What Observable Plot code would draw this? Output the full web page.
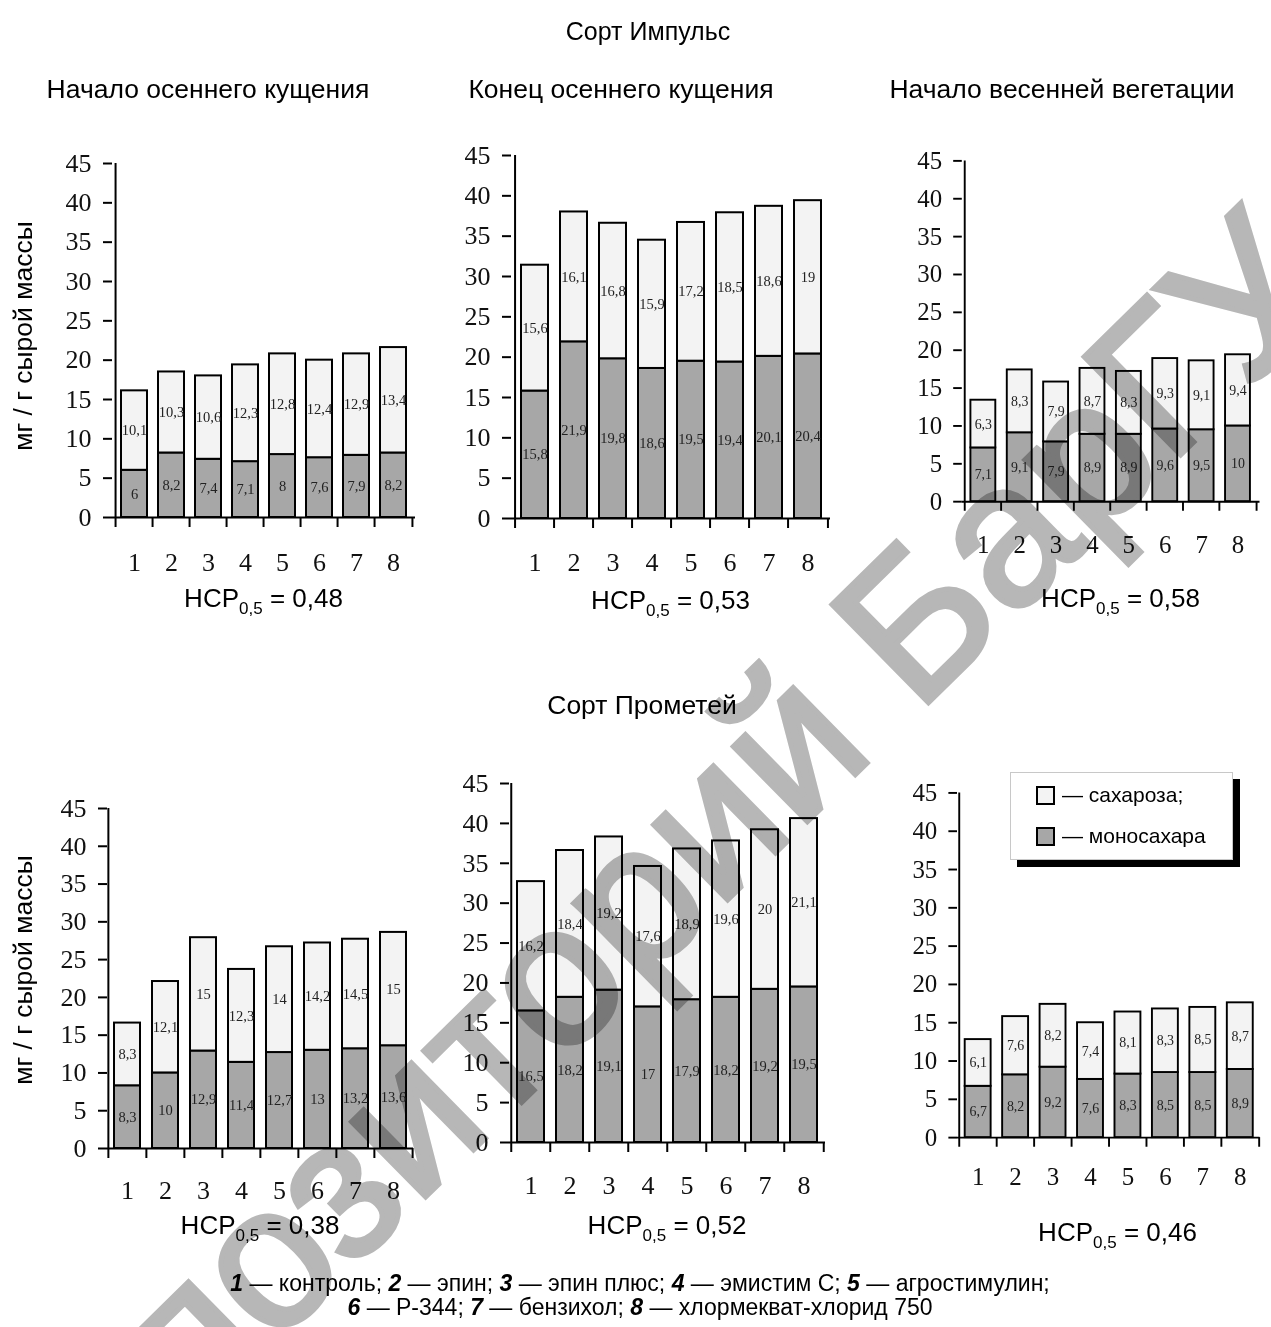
<!DOCTYPE html>
<html>
<head>
<meta charset="utf-8">
<script src="https://cdn.jsdelivr.net/npm/d3@7"></script>
<script src="https://cdn.jsdelivr.net/npm/@observablehq/plot@0.6"></script>
<style>
  html, body { margin: 0; padding: 0; background: #fff; }
  #page { position: relative; width: 1271px; height: 1327px; overflow: hidden; background: #fff;
          font-family: "Liberation Sans", Arial, sans-serif; color: #000; }
  .t { position: absolute; transform: translate(-50%, -50%); white-space: nowrap; font-size: 26.5px; }
  .ytitle { position: absolute; transform: translate(-50%, -50%) rotate(-90deg); white-space: nowrap; font-size: 26.5px; }
  .hcp { position: absolute; transform: translate(-50%, -50%); white-space: nowrap; font-size: 26px; }
  .hcp sub { font-size: 17px; vertical-align: baseline; position: relative; top: 7px; }
  .panel { position: absolute; }
  .foot { position: absolute; left: 0; width: 1280px; text-align: center; font-size: 23px; line-height: 24px; white-space: nowrap; }
  .legend { position: absolute; background: #fff; border: 1px solid #c8c8c8; box-shadow: 7px 7px 0 #000; }
  .legend .row { position: absolute; left: 25px; display: flex; align-items: center; font-size: 21px; }
  .legend .sw { width: 15px; height: 15px; border: 2px solid #000; margin-right: 7px; }
  #wm { position: absolute; left: 0; top: 0; pointer-events: none; mix-blend-mode: multiply; }
</style>
</head>
<body>
<div id="page"></div>
<script>
// ---- data ----
const cats = ["1", "2", "3", "4", "5", "6", "7", "8"];
const yTicks = [0, 5, 10, 15, 20, 25, 30, 35, 40, 45];
const seriesNames = ["моносахара", "сахароза"];

// Сорт Импульс
const imp1Mono = [6, 8.2, 7.4, 7.1, 8, 7.6, 7.9, 8.2];
const imp1Sucr = [10.1, 10.3, 10.6, 12.3, 12.8, 12.4, 12.9, 13.4];
const imp2Mono = [15.8, 21.9, 19.8, 18.6, 19.5, 19.4, 20.1, 20.4];
const imp2Sucr = [15.6, 16.1, 16.8, 15.9, 17.2, 18.5, 18.6, 19];
const imp3Mono = [7.1, 9.1, 7.9, 8.9, 8.9, 9.6, 9.5, 10];
const imp3Sucr = [6.3, 8.3, 7.9, 8.7, 8.3, 9.3, 9.1, 9.4];
// Сорт Прометей
const pro1Mono = [8.3, 10, 12.9, 11.4, 12.7, 13, 13.2, 13.6];
const pro1Sucr = [8.3, 12.1, 15, 12.3, 14, 14.2, 14.5, 15];
const pro2Mono = [16.5, 18.2, 19.1, 17, 17.9, 18.2, 19.2, 19.5];
const pro2Sucr = [16.2, 18.4, 19.2, 17.6, 18.9, 19.6, 20, 21.1];
const pro3Mono = [6.7, 8.2, 9.2, 7.6, 8.3, 8.5, 8.5, 8.9];
const pro3Sucr = [6.1, 7.6, 8.2, 7.4, 8.1, 8.3, 8.5, 8.7];

const hcpValues = ["0,48", "0,53", "0,58", "0,38", "0,52", "0,46"];
const stageTitles = ["Начало осеннего кущения", "Конец осеннего кущения", "Начало весенней вегетации"];
const varietyTitles = ["Сорт Импульс", "Сорт Прометей"];
const yTitle = "мг / г сырой массы";
const legendLabels = ["— сахароза;", "— моносахара"];
const footLine1 = [["1", " — контроль; "], ["2", " — эпин; "], ["3", " — эпин плюс; "], ["4", " — эмистим С; "], ["5", " — агростимулин;"]];
const footLine2 = [["6", " — Р-344; "], ["7", " — бензихол; "], ["8", " — хлормекват-хлорид 750"]];
const watermark = "Репозиторий БарГУ";

// ---- layout ----
const panels = [
  {mono: imp1Mono, sucr: imp1Sucr, ax: 112, right: 415, y45: 163, y0: 517, lab: 45, hcpY: 598},
  {mono: imp2Mono, sucr: imp2Sucr, ax: 511, right: 830, y45: 155, y0: 518, lab: 44, hcpY: 600},
  {mono: imp3Mono, sucr: imp3Sucr, ax: 965, right: 1276, y45: 161, y0: 517, lab: 45, hcpY: 598},
  {mono: pro1Mono, sucr: pro1Sucr, ax: 107, right: 413, y45: 808, y0: 1148, lab: 42, hcpY: 1225},
  {mono: pro2Mono, sucr: pro2Sucr, ax: 509, right: 825, y45: 783, y0: 1142, lab: 43, hcpY: 1225},
  {mono: pro3Mono, sucr: pro3Sucr, ax: 960, right: 1275, y45: 793, y0: 1152, lab: 41, hcpY: 1232}
];

const page = document.getElementById("page");
const fmt = v => String(v).replace(".", ",");

function addText(cls, html, x, y, extra) {
  const d = document.createElement("div");
  d.className = cls;
  d.innerHTML = html;
  d.style.left = x + "px";
  d.style.top = y + "px";
  if (extra) Object.assign(d.style, extra);
  page.appendChild(d);
  return d;
}

// titles
addText("t", varietyTitles[0], 648, 31, {fontSize: "25px"});
addText("t", stageTitles[0], 208, 89);
addText("t", stageTitles[1], 621, 89);
addText("t", stageTitles[2], 1062, 89);
addText("t", varietyTitles[1], 642, 705);
addText("ytitle", yTitle, 23, 336);
addText("ytitle", yTitle, 23, 970);

panels.forEach((p, k) => {
  const ML = 75, MR = 12, MT = 14, MB = 62;
  const plotW = p.right - p.ax;
  const step = plotW / cats.length;
  const plotH = p.y0 - p.y45;
  const W = ML + plotW + MR, H = MT + plotH + MB;
  const rows = [];
  cats.forEach((c, i) => rows.push({cat: c, series: seriesNames[0], value: p.mono[i]}));
  cats.forEach((c, i) => rows.push({cat: c, series: seriesNames[1], value: p.sucr[i]}));
  const chart = Plot.plot({
    width: W, height: H,
    marginLeft: ML, marginRight: MR, marginTop: MT, marginBottom: MB,
    x: {type: "band", domain: cats, paddingInner: 0.31, paddingOuter: 0.155, axis: null},
    y: {domain: [0, 45], axis: null},
    color: {domain: seriesNames, range: ["#a7a7a7", "#f3f3f3"]},
    style: {fontFamily: "'Liberation Serif', 'Times New Roman', serif", fontSize: "26px", color: "#000", background: "transparent", overflow: "visible"},
    marks: [
      Plot.barY(rows, {x: "cat", y: "value", fill: "series", stroke: "#000", strokeWidth: 2, order: seriesNames}),
      Plot.text(rows, Plot.stackY({x: "cat", y: "value", z: "series", order: seriesNames,
        text: d => fmt(d.value), fontSize: 14.5, fill: "#222"})),
      Plot.ruleY([0], {stroke: "#000", strokeWidth: 2}),
      Plot.ruleX([cats[0]], {y1: 0, y2: 45, dx: -step / 2, stroke: "#000", strokeWidth: 2}),
      Plot.axisY({ticks: yTicks, tickSize: 9, tickPadding: 12, fontSize: 26, strokeWidth: 2, label: null, fill: "#111"}),
      Plot.axisX({ticks: cats, tickSize: 10, tickFormat: () => "", dx: -step / 2, strokeWidth: 2, label: null}),
      Plot.axisX({ticks: [cats[cats.length - 1]], tickSize: 10, tickFormat: () => "", dx: step / 2, strokeWidth: 2, label: null}),
      Plot.axisX({ticks: cats, tickSize: 0, tickPadding: p.lab - 10, fontSize: 26, label: null, fill: "#111"})
    ]
  });
  const wrap = document.createElement("div");
  wrap.className = "panel";
  wrap.style.left = (p.ax - ML) + "px";
  wrap.style.top = (p.y45 - MT) + "px";
  wrap.appendChild(chart);
  page.appendChild(wrap);
  addText("hcp", "НСР<sub>0,5</sub> = " + hcpValues[k], (p.ax + p.right) / 2, p.hcpY);
});

// legend
const lg = document.createElement("div");
lg.className = "legend";
Object.assign(lg.style, {left: "1010px", top: "772px", width: "221px", height: "86px"});
[[seriesNames[1], legendLabels[0], "#f3f3f3", 23], [seriesNames[0], legendLabels[1], "#a7a7a7", 64]].forEach(([s, lab, col, y]) => {
  const r = document.createElement("div");
  r.className = "row";
  r.style.top = (y - 13) + "px";
  r.innerHTML = `<div class="sw" style="background:${col}"></div><span>${lab}</span>`;
  lg.appendChild(r);
});
page.appendChild(lg);

// footnote
function footHtml(items) {
  return items.map(([n, t]) => `<b><i>${n}</i></b>${t}`).join("");
}
addText("foot", footHtml(footLine1), 0, 1271, {transform: "none"});
addText("foot", footHtml(footLine2), 0, 1295, {transform: "none"});

// watermark
const svgNS = "http://www.w3.org/2000/svg";
const wm = document.createElementNS(svgNS, "svg");
wm.setAttribute("id", "wm");
wm.setAttribute("width", 1271);
wm.setAttribute("height", 1327);
const wt = document.createElementNS(svgNS, "text");
wt.setAttribute("transform", "translate(682,945) rotate(-44.5)");
wt.setAttribute("text-anchor", "middle");
wt.setAttribute("font-family", "Liberation Sans, Arial, sans-serif");
wt.setAttribute("font-size", 200);
wt.setAttribute("fill", "#b7b7b7");
wt.setAttribute("stroke", "#b7b7b7");
wt.setAttribute("stroke-width", 5);
wt.textContent = watermark;
wm.appendChild(wt);
page.appendChild(wm);
</script>
</body>
</html>
